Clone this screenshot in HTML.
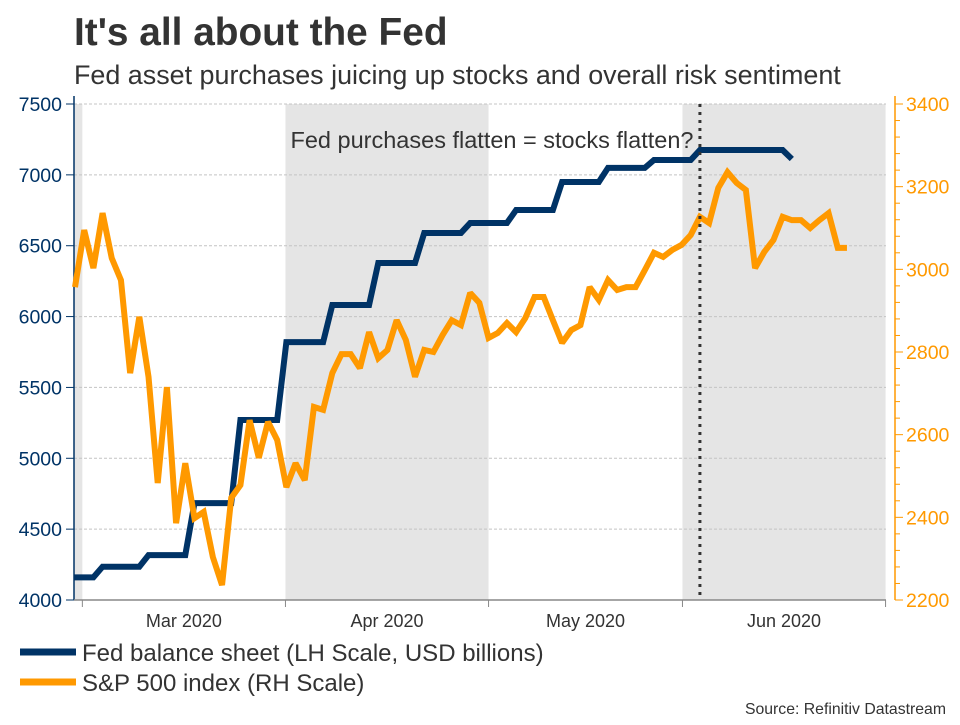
<!DOCTYPE html>
<html><head><meta charset="utf-8"><style>
body{margin:0;background:#fff;}
svg text{font-family:"Liberation Sans",Arial,sans-serif;}
</style></head><body>
<svg id="c" width="960" height="720" viewBox="0 0 960 720" xmlns="http://www.w3.org/2000/svg">
<text x="74" y="45" font-size="38.8" font-weight="bold" fill="#333">It's all about the Fed</text>
<text x="74" y="84" font-size="26.9" fill="#333">Fed asset purchases juicing up stocks and overall risk sentiment</text>
<g id="plot"></g>
<g>
<line x1="20" y1="652" x2="76" y2="652" stroke="#003366" stroke-width="7"/>
<text x="82" y="661" font-size="24" fill="#333">Fed balance sheet (LH Scale, USD billions)</text>
<line x1="20" y1="682" x2="76" y2="682" stroke="#ff9900" stroke-width="7"/>
<text x="82" y="691" font-size="24" fill="#333">S&amp;P 500 index (RH Scale)</text>
</g>
<text x="946" y="714" font-size="15.8" fill="#333" text-anchor="end">Source: Refinitiv Datastream</text>
</svg>
<script>
const spValues=[2957,3095,3003,3136,3027,2974,2749,2885,2740,2483,2715,2386,2531,2398,2413,2304,2236,2447,2478,2635,2544,2631,2587,2473,2531,2490,2667,2660,2749,2795,2795,2761,2848,2785,2805,2877,2829,2740,2805,2800,2841,2877,2865,2943,2919,2834,2846,2870,2848,2882,2933,2933,2877,2822,2853,2865,2957,2926,2974,2950,2957,2957,2998,3040,3030,3047,3059,3083,3127,3112,3197,3235,3209,3192,3003,3042,3071,3127,3119,3119,3100,3119,3136,3052,3052];
const fedIdx=[-2,3,8,13,18,23,28,33,38,43,48,53,58,63,68,73,78];
const fedValues=[4160,4235,4317,4684,5270,5820,6082,6378,6590,6660,6752,6950,7049,7105,7175,7175,7112];
const leftTicks=[4000,4500,5000,5500,6000,6500,7000,7500];
const rightTicks=[2200,2400,2600,2800,3000,3200,3400];
const monthLabels=["Mar 2020","Apr 2020","May 2020","Jun 2020"];
const monthTickIdx=[0.8,22.9,45,66.1,88.2];
const shadeRanges=[[-0.1,0.8],[22.9,45],[66.1,88.2]];
const markerIdx=68;

const X0=74,X1=886,Y0=600,Y1=104;
const xs=i=>75+i*9.19;
const yl=v=>Y0-(v-4000)/3500*(Y0-Y1);
const yr=v=>Y0-(v-2200)/1200*(Y0-Y1);
const NS="http://www.w3.org/2000/svg";
const g=document.getElementById('plot');
function mk(t,a,p){const e=document.createElementNS(NS,t);for(const k in a)e.setAttribute(k,a[k]);(p||g).appendChild(e);return e;}

shadeRanges.forEach(r=>{
 const e=mk('rect',{x:Math.max(X0,xs(r[0])),y:Y1,width:Math.min(X1,xs(r[1]))-Math.max(X0,xs(r[0])),height:Y0-Y1,fill:'#e5e5e5'});
 
 
});
leftTicks.forEach(v=>{
 if(v>4000){const l=mk('line',{x1:X0,x2:X1,y1:yl(v),y2:yl(v),stroke:'#c4c4c4','stroke-dasharray':'3,2'});
 
 }
 const t=mk('line',{x1:66,x2:X0,y1:yl(v),y2:yl(v),stroke:'#003366'});
 
 
 const tx=mk('text',{x:62,y:yl(v)+7,'font-size':19.5,fill:'#003366','text-anchor':'end'});
 tx.textContent=v;
 
 
});
const la=mk('line',{x1:X0,x2:X0,y1:Y1-8,y2:Y0,stroke:'#003366','stroke-width':1.5});


for(let v=2200;v<=3400;v+=40){
 const major=rightTicks.includes(v);
 const t=mk('line',{x1:895,x2:major?903:900,y1:yr(v),y2:yr(v),stroke:'#ff9900'});
 
 
}
rightTicks.forEach(v=>{
 const tx=mk('text',{x:906,y:yr(v)+7,'font-size':19.5,fill:'#ff9900'});
 tx.textContent=v;
 
 
});
const ra=mk('line',{x1:895,x2:895,y1:Y1-8,y2:Y0,stroke:'#ff9900','stroke-width':1.5});


const ba=mk('line',{x1:X0,x2:X1,y1:Y0,y2:Y0,stroke:'#888','stroke-width':1.5});


monthTickIdx.forEach(i=>{
 const t=mk('line',{x1:xs(i),x2:xs(i),y1:Y0,y2:Y0+7,stroke:'#888'});
 
 
});
monthLabels.forEach((m,k)=>{
 const tx=mk('text',{x:(xs(monthTickIdx[k])+xs(monthTickIdx[k+1]))/2,y:627,'font-size':18,fill:'#333','text-anchor':'middle'});
 tx.textContent=m;
 
 
});
const ann=mk('text',{x:492,y:148,'font-size':23.5,fill:'#333','text-anchor':'middle'});
ann.textContent='Fed purchases flatten = stocks flatten?';



let pts=[];
for(let k=0;k<fedIdx.length;k++){
 if(k>0)pts.push([xs(fedIdx[k]),yl(fedValues[k])]);
 if(k<fedIdx.length-1)pts.push([xs(fedIdx[k+1]-1),yl(fedValues[k])]);
}
pts[0][0]=Math.max(pts[0][0],X0);
if(pts[0][0]>X0)pts.unshift([X0,pts[0][1]]);
const clipD=pts.filter(p=>p[0]>=X0);
const fed=mk('polyline',{points:clipD.map(p=>p.join(',')).join(' '),fill:'none',stroke:'#003366','stroke-width':6,'stroke-linejoin':'miter'});



const sp=mk('polyline',{points:spValues.map((v,i)=>xs(i)+','+yr(v)).join(' '),fill:'none',stroke:'#ff9900','stroke-width':6,'stroke-linejoin':'miter','stroke-miterlimit':2});



const mkr=mk('line',{x1:xs(markerIdx),x2:xs(markerIdx),y1:Y1,y2:Y0,stroke:'#333','stroke-width':3,'stroke-dasharray':'3,5'});


</script>
</body></html>
